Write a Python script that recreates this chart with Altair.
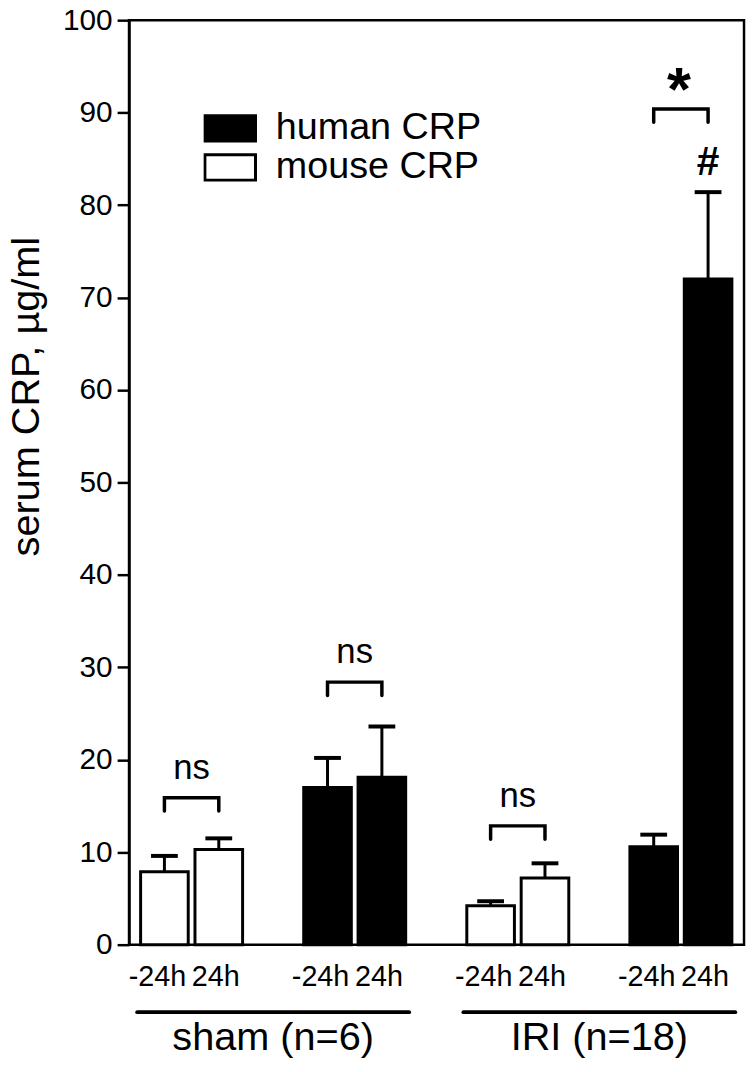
import altair as alt
import pandas as pd

FONT = "Liberation Sans"

# ---- data ----
species = ["mouse CRP", "mouse CRP", "human CRP", "human CRP",
           "mouse CRP", "mouse CRP", "human CRP", "human CRP"]
times = ["-24h", "24h", "-24h", "24h", "-24h", "24h", "-24h", "24h"]
slot = [0, 1, 3, 4, 6, 7, 9, 10]
means = [7.9, 10.3, 17.0, 18.1, 4.2, 7.2, 10.6, 72.0]
upper = [9.6, 11.5, 20.2, 23.6, 4.7, 8.8, 11.9, 81.4]
sig = ["", "", "", "", "", "", "", "#"]

group_names = ["sham (n=6)", "IRI (n=18)"]
group_first = [0, 6]
group_last = [4, 10]

br_left = [0, 3, 6, 9]
br_right = [1, 4, 7, 10]
br_top = [15.9, 28.4, 12.85, 90.4]
br_label = ["ns", "ns", "ns", "*"]
br_drop = 1.45

y_ticks = list(range(0, 101, 10))

# ---- tables ----
bars = pd.DataFrame({"species": species, "time": times, "slot": slot,
                     "mean": means, "upper": upper, "sig": sig})

groups = pd.DataFrame({
    "name": group_names,
    "start": [f - 0.5 for f in group_first],
    "end": [l + 0.5 for l in group_last],
    "mid": [(f + l) / 2 for f, l in zip(group_first, group_last)],
})

br_rows = []
for i, (a, b, t) in enumerate(zip(br_left, br_right, br_top)):
    for k, (xx, yy) in enumerate([(a, t - br_drop), (a, t), (b, t), (b, t - br_drop)]):
        br_rows.append({"id": i, "seq": k, "x": xx, "y": yy})
br_lines = pd.DataFrame(br_rows)
br_text = pd.DataFrame({"x": [(a + b) / 2 for a, b in zip(br_left, br_right)],
                        "y": br_top, "label": br_label})

# ---- scales ----
xs = alt.Scale(domain=[-0.56, 10.57], nice=False, zero=False)
ys = alt.Scale(domain=[0, 100], nice=False, zero=True)
yaxis = alt.Axis(values=y_ticks, title="serum CRP, \u00b5g/ml", grid=False,
                 tickSize=12, tickWidth=2.5, tickColor="black",
                 domainColor="black", domainWidth=2.5,
                 labelFont=FONT, labelFontSize=30, labelColor="black", labelPadding=5,
                 titleFont=FONT, titleFontSize=40, titleFontWeight="normal",
                 titleColor="black", titleAngle=270, titleBaseline="alphabetic",
                 titleAlign="center", titleX=-91, titleY=379)


def X(field):
    return alt.X(field, type="quantitative", scale=xs, axis=None)


def Y(field):
    return alt.Y(field, type="quantitative", scale=ys, axis=yaxis)


base = alt.Chart(bars)

err_line = base.mark_rule(color="black", strokeWidth=3).encode(
    x=X("slot"), y=Y("mean"), y2="upper")
err_cap = base.mark_tick(color="black", orient="horizontal", size=27,
                         thickness=4, opacity=1).encode(
    x=X("slot"), y=Y("upper"))

bar_layer = base.mark_bar(size=48, stroke="black", strokeWidth=3, opacity=1).encode(
    x=X("slot"), y=Y("mean"),
    fill=alt.Fill("species:N",
                  scale=alt.Scale(domain=["human CRP", "mouse CRP"],
                                  range=["black", "white"]),
                  legend=alt.Legend(
                      orient="none", legendX=75, legendY=90, title=None,
                      symbolType="M-1,-0.5L1,-0.5L1,0.5L-1,0.5Z",
                      symbolSize=2601, symbolStrokeWidth=3,
                      symbolStrokeColor="black", symbolOpacity=1,
                      labelFont=FONT, labelFontSize=38, labelColor="black",
                      labelOffset=19, labelLimit=400, clipHeight=38,
                      rowPadding=1.5, padding=0)))

hash_text = base.transform_filter(alt.datum.sig != "").mark_text(
    font=FONT, fontSize=41, fontWeight="bold", color="black",
    baseline="alphabetic", dy=-17).encode(
    x=X("slot"), y=Y("upper"), text="sig:N")

tick_minus = base.transform_filter(alt.datum.time == "-24h").mark_text(
    font=FONT, fontSize=29, color="black", baseline="alphabetic", dy=42, dx=-7).encode(
    x=X("slot"), y=alt.datum(0), text="time:N")
tick_plus = base.transform_filter(alt.datum.time == "24h").mark_text(
    font=FONT, fontSize=29, color="black", baseline="alphabetic", dy=42, dx=-3).encode(
    x=X("slot"), y=alt.datum(0), text="time:N")

bracket = alt.Chart(br_lines).mark_line(
    color="black", strokeWidth=3.5, strokeCap="round", strokeJoin="miter").encode(
    x=X("x"), y=Y("y"), detail="id:N", order="seq:Q")

ns_text = alt.Chart(br_text).transform_filter(alt.datum.label == "ns").mark_text(
    font=FONT, fontSize=35, color="black", baseline="alphabetic", dy=-19).encode(
    x=X("x"), y=Y("y"), text="label:N")

star_text = alt.Chart(br_text).transform_filter(alt.datum.label == "*").mark_text(
    font=FONT, fontSize=62, fontWeight="bold", color="black",
    baseline="alphabetic", dy=1, dx=-2).encode(
    x=X("x"), y=Y("y"), text="label:N")

g_base = alt.Chart(groups)
group_rule = g_base.mark_rule(color="black", strokeWidth=4, strokeCap="round",
                              yOffset=68).encode(
    x=X("start"), x2="end", y=alt.datum(0))
group_text = g_base.mark_text(font=FONT, fontSize=40, color="black",
                              baseline="alphabetic", dy=106).encode(
    x=X("mid"), y=alt.datum(0), text="name:N")

chart = alt.layer(
    err_line, err_cap, bar_layer, hash_text, tick_minus, tick_plus, bracket,
    ns_text, star_text, group_rule, group_text
).properties(
    width=620, height=932,
    autosize=alt.AutoSizeParams(type="none"),
    padding={"left": 122, "top": 8, "right": 3, "bottom": 114},
).configure_view(stroke="black", strokeWidth=2.5)

chart.save("out.html", embed_options={"renderer": "svg", "actions": False})
